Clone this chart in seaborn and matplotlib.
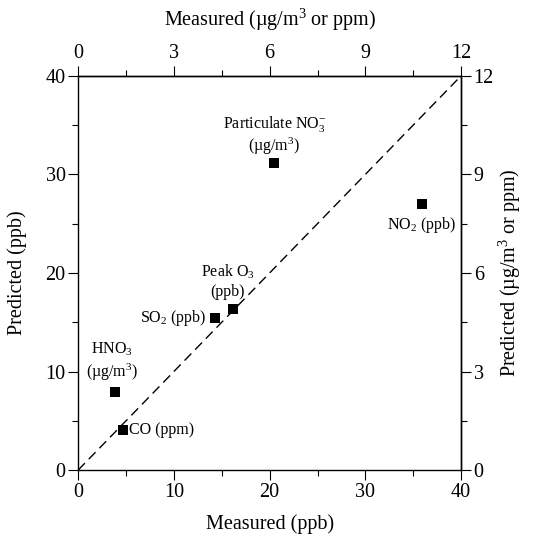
import numpy as np
import pandas as pd
import seaborn as sns
import matplotlib.pyplot as plt
from matplotlib.ticker import FixedLocator

# values (bottom/left scale: ppb)
species = ['Particulate NO3', 'NO2', 'Peak O3', 'SO2', 'HNO3', 'CO']
measured = [20.5, 35.9, 16.2, 14.3, 3.8, 4.7]
predicted = [31.1, 27.0, 16.3, 15.4, 7.9, 4.1]
labels = ['Particulate NO$_3^{-}$\n(\u00b5g/m$^3$)', 'NO$_2$ (ppb)', 'Peak O$_3$\n(ppb)',
          'SO$_2$ (ppb)', 'HNO$_3$\n(\u00b5g/m$^3$)', 'CO (ppm)']
one_to_one = [0, 40]
ppb_ticks = [0, 10, 20, 30, 40]
ppb_minor = [5, 15, 25, 35]
mass_ticks = [0, 3, 6, 9, 12]
mass_minor = [1.5, 4.5, 7.5, 10.5]

sns.set_theme(style='ticks')
plt.rcParams['font.family'] = ['Liberation Serif', 'DejaVu Serif']
plt.rcParams['mathtext.fontset'] = 'custom'
plt.rcParams['mathtext.rm'] = 'Liberation Serif'
plt.rcParams['mathtext.it'] = 'Liberation Serif:italic'
plt.rcParams['text.color'] = 'black'
plt.rcParams['axes.labelcolor'] = 'black'

data = pd.DataFrame({'species': species, 'measured': measured, 'predicted': predicted})

fig = plt.figure(figsize=(5.35, 5.41), dpi=100)
ax = fig.add_axes([0.146, 0.131, 0.716, 0.729])

sns.lineplot(x=one_to_one, y=one_to_one, ax=ax, color='black', lw=1.0,
             linestyle=(0, (7, 4)))
sns.scatterplot(data=data, x='measured', y='predicted', ax=ax, marker='s', s=48,
                color='black', edgecolor='black', linewidth=0)

# label offsets in points (styling only)
offsets = {
    'Particulate NO3': (0, 5, 'center', 'bottom', 1.1),
    'NO2': (0, -8, 'center', 'top', 1.2),
    'Peak O3': (-4, 7, 'center', 'bottom', 1.2),
    'SO2': (-6, 0, 'right', 'center', 1.2),
    'HNO3': (-2, 7, 'center', 'bottom', 1.2),
    'CO': (4, 0, 'left', 'center', 1.2),
}
for sp, x, y, lab in zip(species, measured, predicted, labels):
    dx, dy, ha, va, ls = offsets[sp]
    ax.annotate(lab, (x, y), xytext=(dx, dy), textcoords='offset points',
                ha=ha, va=va, fontsize=11.5, linespacing=ls, multialignment='center')

ax.set_xlim(0, 40)
ax.set_ylim(0, 40)
ax.xaxis.set_major_locator(FixedLocator(ppb_ticks))
ax.xaxis.set_minor_locator(FixedLocator(ppb_minor))
ax.yaxis.set_major_locator(FixedLocator(ppb_ticks))
ax.yaxis.set_minor_locator(FixedLocator(ppb_minor))
ax.set_xlabel('Measured (ppb)', fontsize=14.5, labelpad=9)
ax.set_ylabel('Predicted (ppb)', fontsize=14.5, labelpad=13)
ax.tick_params(which='major', direction='out', length=7, width=0.8, labelsize=14.5, pad=2)
ax.tick_params(which='minor', direction='out', length=4, width=0.8)

# secondary scales (ug/m3 or ppm): 40 ppb <-> 12
ax_top = ax.secondary_xaxis('top', functions=(lambda v: v * 0.3, lambda v: v / 0.3))
ax_top.xaxis.set_major_locator(FixedLocator(mass_ticks))
ax_top.xaxis.set_minor_locator(FixedLocator(mass_minor))
ax_top.set_xlabel('Measured (\u00b5g/m$^3$ or ppm)', fontsize=14.5, labelpad=13)
ax_top.tick_params(which='major', direction='out', length=7, width=0.8, labelsize=14.5, pad=2)
ax_top.tick_params(which='minor', direction='out', length=4, width=0.8)

ax_right = ax.secondary_yaxis('right', functions=(lambda v: v * 0.3, lambda v: v / 0.3))
ax_right.yaxis.set_major_locator(FixedLocator(mass_ticks))
ax_right.yaxis.set_minor_locator(FixedLocator(mass_minor))
ax_right.set_ylabel('Predicted (\u00b5g/m$^3$ or ppm)', fontsize=14.5, labelpad=2)
ax_right.tick_params(which='major', direction='out', length=7, width=0.8, labelsize=14.5, pad=2)
ax_right.tick_params(which='minor', direction='out', length=4, width=0.8)

for a in (ax, ax_top, ax_right):
    for s in a.spines.values():
        s.set_linewidth(1.0)
        s.set_color('black')
    a.tick_params(colors='black', labelcolor='black', which='both')

fig.savefig('out.png', dpi=100)
